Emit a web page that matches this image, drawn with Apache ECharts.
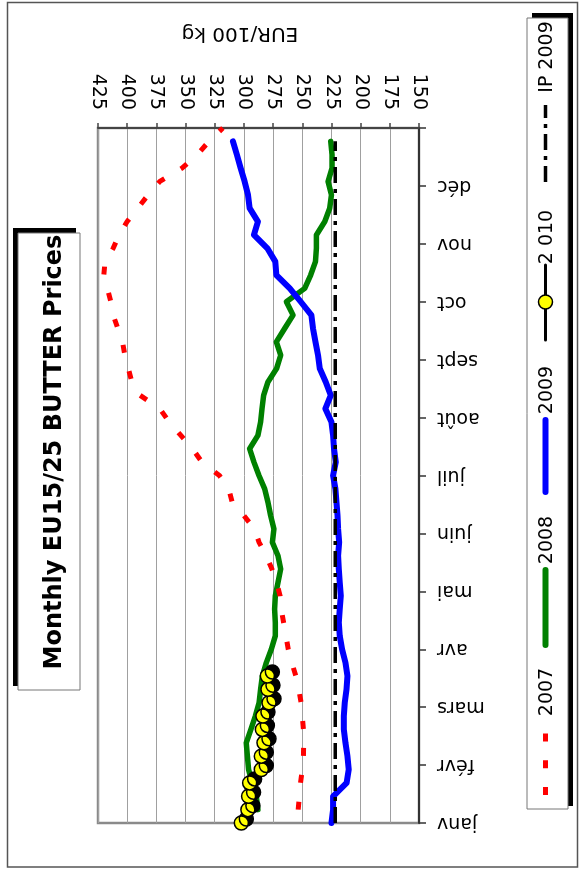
<!DOCTYPE html>
<html>
<head>
<meta charset="utf-8">
<title>Monthly EU15/25 BUTTER Prices</title>
<script src="https://cdn.jsdelivr.net/npm/echarts@6/dist/echarts.min.js"></script>
<style>
  html, body { margin: 0; padding: 0; background: #fff; }
  #chart { width: 581px; height: 870px; }
</style>
</head>
<body>
<div id="chart"></div>
<script>
// Month labels along the time axis (one tick per month, weekly data in between)
const months = ['janv', 'févr', 'mars', 'avr', 'mai', 'juin', 'juil', 'août', 'sept', 'oct', 'nov', 'déc'];
const weeksPerYear = 52;

// Price axis range, EUR/100 kg
const priceMin = 150;
const priceMax = 425;
const priceStep = 25;

// Weekly butter prices, EUR/100 kg (first value sits at the given week index)
const start2007 = 1;
const price2007 = [253.5, 252.5, 251.5, 250, 249, 248.8, 249, 250, 251, 253, 255.5, 259, 262, 264, 266,
  268, 269, 272, 276, 281, 287, 291, 300, 310, 313, 321, 336, 344, 354, 364, 372, 389, 396, 399, 402,
  404, 408, 412, 414, 417, 420, 419, 412, 407, 400, 391, 382, 372, 353, 340, 330, 318];

const start2008 = 1;
const price2008 = [288, 289.4, 293, 296, 297, 298, 294, 290.2, 287, 285.7, 284.2, 280.8, 276.5, 273.1,
  273.1, 273.7, 273.1, 270.8, 268.5, 270.8, 275.6, 274.3, 277.1, 279.4, 282.2, 287.1, 291.4, 295.1,
  288, 285.7, 284.5, 283.1, 279.4, 272, 268.5, 272.2, 265.1, 257.9, 263.6, 247.9, 242.8, 238.7, 237.9,
  237.9, 230.7, 226.5, 225, 227.9, 224.5, 224.5, 225.6];

const start2009 = 0;
const price2009 = [225, 223.6, 223.6, 212, 210.2, 211.3, 213, 214.4, 214.4, 213.6, 212.1, 211.3, 213,
  215.9, 217.9, 218.7, 217.9, 217, 217.9, 218.7, 219.3, 218.4, 219.3, 219.8, 220.7, 221.6, 223.6, 221.3,
  222.8, 223.6, 225, 230.2, 225.6, 229.9, 235, 236.5, 238.7, 240.8, 242.2, 251.3, 260.7, 272.2, 273.1,
  279.9, 291.4, 288, 295.1, 296.5, 299.4, 302.8, 306, 309.4];

const start2010 = 0;
const price2010 = [302.2, 296.6, 296, 295.1, 285.1, 285.1, 282.8, 284.2, 283.7, 278.5, 279.4, 279.9];

// Intervention price 2009, constant over the year
const interventionPrice = 221.75;
const interventionWeeks = [0, 51];

// week index -> position on the month axis
const toMonth = w => w * 12 / weeksPerYear;
const weekly = (values, start) => values.map((v, i) => [v, toMonth(start + i)]);

const FONT = 'DejaVu Sans';
const chart = echarts.init(document.getElementById('chart'), null, { renderer: 'canvas' });

// text reading bottom-to-top
const vText = (text, x, y, size, weight) => ({
  type: 'text', x: x, y: y, rotation: Math.PI / 2, silent: true, z: 20,
  style: { text: text, fontSize: size, fontWeight: weight || 'normal', fontFamily: FONT,
    fill: '#000', align: 'center', verticalAlign: 'middle' }
});

const vLine = (x, y1, y2, style) => ({
  type: 'line', silent: true, z: 20,
  shape: { x1: x, y1: y1, x2: x, y2: y2 },
  style: style
});

const LX = 545.5;

chart.setOption({
  animation: false,
  backgroundColor: '#fff',
  grid: {
    left: 98, right: 162, top: 128, bottom: 47,
    show: true, backgroundColor: '#fff', borderColor: '#8a8a8a', borderWidth: 2.5,
    outerBoundsMode: 'none'
  },
  xAxis: {
    type: 'value', min: priceMin, max: priceMax, interval: priceStep,
    inverse: true, position: 'top',
    axisLine: { show: true, onZero: false, lineStyle: { color: '#444', width: 2 } },
    axisTick: { show: true, inside: false, length: 5, lineStyle: { color: '#444', width: 1.5 } },
    axisLabel: { rotate: 90, margin: 18, fontSize: 19, color: '#000', fontFamily: FONT },
    splitLine: { show: true, lineStyle: { color: '#a0a0a0', width: 1 } }
  },
  yAxis: {
    type: 'value', min: 0, max: 12, interval: 1, position: 'right',
    axisLine: { show: true, onZero: false, lineStyle: { color: '#333', width: 2 } },
    axisTick: { show: true, inside: false, length: 7, lineStyle: { color: '#333', width: 1.5 } },
    axisLabel: {
      rotate: 180, margin: 18, fontSize: 19, color: '#000', fontFamily: FONT,
      formatter: v => months[Math.round(v)] || ''
    },
    splitLine: { show: false }
  },
  series: [
    {
      name: '2008', type: 'line', z: 2, symbol: 'none',
      data: weekly(price2008, start2008),
      lineStyle: { color: '#008000', width: 5.5, join: 'round', cap: 'round' }
    },
    {
      name: '2009', type: 'line', z: 3, symbol: 'none',
      data: weekly(price2009, start2009),
      lineStyle: { color: '#0000ff', width: 6, join: 'round', cap: 'round' }
    },
    {
      name: '2007', type: 'line', z: 4, symbol: 'none',
      data: weekly(price2007, start2007),
      lineStyle: { color: '#ff0000', width: 5, type: [8, 19], cap: 'butt' }
    },
    {
      name: 'IP 2009', type: 'line', z: 5, symbol: 'none',
      data: interventionWeeks.map(w => [interventionPrice, toMonth(w)]),
      lineStyle: { color: '#000', width: 3.5, type: [16, 6, 4, 6] }
    },
    {
      name: '2 010', type: 'line', z: 6,
      data: weekly(price2010, start2010),
      symbol: 'circle', symbolSize: 14, showAllSymbol: true,
      lineStyle: { color: '#000', width: 3, shadowColor: '#000', shadowOffsetX: 5, shadowOffsetY: -4, shadowBlur: 0 },
      itemStyle: { color: '#ffff00', borderColor: '#000', borderWidth: 1.5,
        shadowColor: '#000', shadowOffsetX: 5, shadowOffsetY: -4, shadowBlur: 0 }
    }
  ],
  graphic: [
    // outer frame
    { type: 'rect', silent: true, z: -10, shape: { x: 7.5, y: 2.5, width: 570, height: 864.5 },
      style: { fill: 'none', stroke: '#555', lineWidth: 1.5 } },
    // axis title
    { type: 'text', x: 240, y: 33, rotation: Math.PI, silent: true,
      style: { text: 'EUR/100 kg', fontSize: 20, fontFamily: FONT, fill: '#000', align: 'center', verticalAlign: 'middle' } },
    // chart title box
    { type: 'rect', silent: true, shape: { x: 13, y: 228, width: 63, height: 458 }, style: { fill: '#000' } },
    { type: 'rect', silent: true, shape: { x: 18, y: 233, width: 62, height: 457 },
      style: { fill: '#fff', stroke: '#777', lineWidth: 1 } },
    vText('Monthly EU15/25 BUTTER Prices', 55, 452, 24, 'bold'),
    // legend box
    { type: 'rect', silent: true, z: 19, shape: { x: 532, y: 13, width: 41, height: 793 }, style: { fill: '#000' } },
    { type: 'rect', silent: true, z: 19, shape: { x: 527, y: 18, width: 41, height: 791 },
      style: { fill: '#fff', stroke: '#777', lineWidth: 1 } },
    vLine(LX, 795, 733, { stroke: '#ff0000', lineWidth: 5, lineDash: [8, 18.7] }),
    vText('2007', 547, 692, 19),
    vLine(LX, 645, 570, { stroke: '#008000', lineWidth: 6, lineCap: 'round' }),
    vText('2008', 547, 540, 19),
    vLine(LX, 492, 420, { stroke: '#0000ff', lineWidth: 6, lineCap: 'round' }),
    vText('2009', 547, 390, 19),
    vLine(LX, 340, 265, { stroke: '#000', lineWidth: 3, lineCap: 'round' }),
    { type: 'circle', silent: true, z: 21, shape: { cx: LX, cy: 302, r: 7 },
      style: { fill: '#ffff00', stroke: '#000', lineWidth: 1.5 } },
    vText('2 010', 547, 237, 19),
    vLine(LX, 182, 105, { stroke: '#000', lineWidth: 3.5, lineDash: [16, 6, 4, 6] }),
    vText('IP 2009', 547, 57, 19)
  ]
});
</script>
</body>
</html>
